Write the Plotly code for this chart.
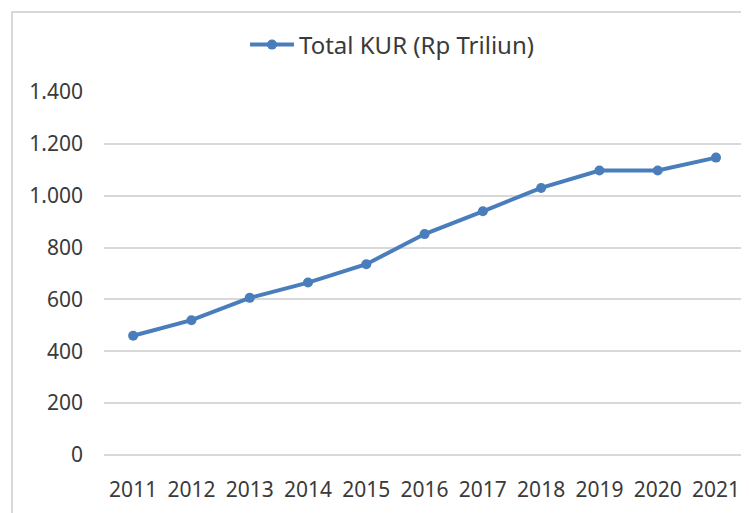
import plotly.graph_objects as go

years = ["2011", "2012", "2013", "2014", "2015", "2016", "2017", "2018", "2019", "2020", "2021"]
total_kur = [460, 520, 606, 665, 736, 852, 940, 1030, 1097, 1097, 1147]
series_name = "Total KUR (Rp Triliun)"
y_ticks = [0, 200, 400, 600, 800, 1000, 1200, 1400]

# page has an 8px body margin, so figure coords = window coords - 8
OFF = 8
W, H = 749 - 2 * OFF, 513 - OFF
L, R, T, B = 104 - OFF, 0, 92 - OFF, H - (455 - OFF)
pw = W - L - R
ph = H - T - B
step = (716 - 104) / 10.5
x_right = pw / step - 0.5

fig = go.Figure()
fig.add_trace(go.Scatter(
    x=years, y=total_kur, name=series_name, mode="lines+markers",
    line=dict(color="#4a7dbb", width=4),
    marker=dict(color="#4a7dbb", size=10, symbol="circle"),
    showlegend=True,
))

fontfam = "Noto Sans, Open Sans, sans-serif"
fig.update_layout(
    width=W, height=H,
    margin=dict(l=L, r=R, t=T, b=B, pad=0),
    paper_bgcolor="white", plot_bgcolor="white",
    separators=",.",
    font=dict(family=fontfam, size=20, color="#3a3a3a"),
    showlegend=True,
    legend=dict(
        orientation="h", x=(392 - OFF - L) / pw, xanchor="center",
        y=(H - B - (45 - OFF)) / ph, yanchor="middle",
        font=dict(size=24, color="#3a3a3a"),
        bgcolor="rgba(0,0,0,0)", itemwidth=44,
    ),
    xaxis=dict(
        type="category", range=[-0.5, x_right],
        showgrid=False, zeroline=False, showline=False, ticks="",
        ticklabelstandoff=20,
        tickfont=dict(size=21, color="#3a3a3a"),
        fixedrange=True,
    ),
    yaxis=dict(
        range=[0, 1400], tickvals=y_ticks, tickformat=",d",
        showgrid=True, gridcolor="#d9d9d9", gridwidth=1.5,
        zeroline=True, zerolinecolor="#d9d9d9", zerolinewidth=1.5,
        showline=False, ticks="", ticklabelstandoff=20,
        tickfont=dict(size=21, color="#3a3a3a"),
        fixedrange=True,
    ),
)

# chart border (light gray frame, right/bottom edges beyond the image)
fig.add_shape(
    type="rect", xref="paper", yref="paper",
    x0=(12 - OFF - L) / pw, x1=1.2, y0=-0.5, y1=(H - B - (12 - OFF)) / ph,
    line=dict(color="#d9d9d9", width=2), fillcolor="rgba(0,0,0,0)", layer="below",
)

fig.write_html("out.html")
